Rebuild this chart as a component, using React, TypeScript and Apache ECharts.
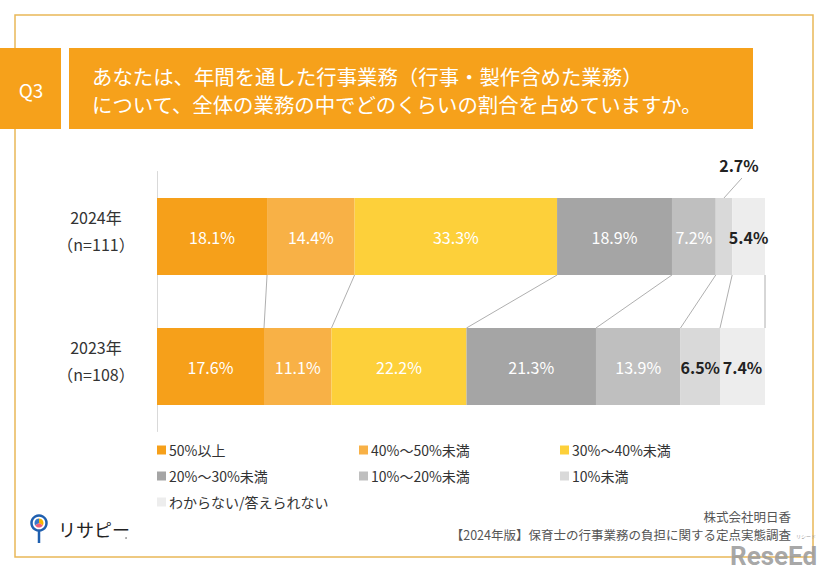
import React, { useEffect, useRef } from 'react';
import * as echarts from 'echarts';

const categories = ['2024年\n（n=111）', '2023年\n（n=108）'];
const seriesNames = ['50%以上', '40%～50%未満', '30%～40%未満', '20%～30%未満', '10%～20%未満', '10%未満', 'わからない/答えられない'];
const values2024 = [18.1, 14.4, 33.3, 18.9, 7.2, 2.7, 5.4];
const values2023 = [17.6, 11.1, 22.2, 21.3, 13.9, 6.5, 7.4];
const colors = ['#F6A01A', '#F8B146', '#FDD03A', '#A5A5A5', '#BFBFBF', '#D9D9D9', '#EDEDED'];
const labelColors = ['#fff', '#fff', '#fff', '#fff', '#fff', '#222', '#222'];
const titleLines = ['あなたは、年間を通した行事業務（行事・製作含めた業務）', 'について、全体の業務の中でどのくらいの割合を占めていますか。'];
const footerLines = ['株式会社明日香', '【2024年版】保育士の行事業務の負担に関する定点実態調査'];

const FONT = "'Noto Sans CJK JP', 'Noto Sans', sans-serif";
const BAR = 77;

function cumulative(arr: number[]) {
  const out: number[] = [];
  let s = 0;
  for (const v of arr) { s += v; out.push(Math.round(s * 10) / 10); }
  return out;
}

export default function App() {
  const ref = useRef<HTMLDivElement>(null);
  useEffect(() => {
    document.body.style.margin = '0';
    const chart = echarts.init(ref.current!, null, { renderer: 'svg' });
    const c24 = cumulative(values2024);
    const c23 = cumulative(values2023);
    const connectors = c24.map((v, i) => [v, c23[i], 0]);
    const leaderMid = c24[4] + values2024[5] / 2;

    const barSeries = seriesNames.map((name, i) => ({
      name,
      type: 'bar',
      stack: 'total',
      barWidth: BAR,
      itemStyle: { color: colors[i] },
      label: {
        show: true,
        position: 'inside',
        formatter: '{c}%',
        color: labelColors[i],
        fontSize: 16,
        fontFamily: FONT,
        fontWeight: labelColors[i] === '#222' ? 'bold' : 'normal',
      },
      data: [values2024[i], values2023[i]].map((v, j) =>
        i === 5 && j === 0
          ? { value: v, label: { position: 'top', offset: [15, -20], color: '#222', fontWeight: 'bold' } }
          : v
      ),
    }));

    const legendCommon = {
      orient: 'vertical',
      icon: 'rect',
      itemWidth: 9,
      itemHeight: 9,
      itemGap: 12,
      padding: 0,
      selectedMode: false,
      textStyle: { fontSize: 14, color: '#333', fontFamily: FONT, padding: [0, 0, 0, -2] },
    };

    chart.setOption({
      animation: false,
      textStyle: { fontFamily: FONT },
      grid: { left: 157, right: 61, top: 171.5, height: 260 },
      xAxis: { type: 'value', min: 0, max: 100, show: false },
      yAxis: {
        type: 'category',
        data: categories,
        inverse: true,
        axisLine: { show: true, lineStyle: { color: '#D9D9D9', width: 1 } },
        axisTick: { show: false },
        axisLabel: {
          margin: 61,
          align: 'center',
          formatter: (v: string) => v.split('\n').map((s) => `{a|${s}}`).join('\n') + '\n{s| }',
          rich: {
            a: { fontSize: 16, lineHeight: 27, color: '#333', fontFamily: FONT, align: 'center' },
            s: { fontSize: 6, lineHeight: 12 },
          },
        },
      },
      legend: [
        { ...legendCommon, left: 157, top: 443, data: [seriesNames[0], seriesNames[3], seriesNames[6]] },
        { ...legendCommon, left: 359, top: 443, data: [seriesNames[1], seriesNames[4]] },
        { ...legendCommon, left: 560, top: 443, data: [seriesNames[2], seriesNames[5]] },
      ],
      series: [
        ...barSeries,
        {
          type: 'custom',
          name: 'connectors',
          silent: true,
          clip: false,
          encode: { x: 0, y: 2 },
          data: connectors,
          renderItem: (params: any, api: any) => {
            const a = api.coord([api.value(0), 0]);
            const b = api.coord([api.value(1), 1]);
            return {
              type: 'line',
              shape: { x1: a[0], y1: a[1] + BAR / 2, x2: b[0], y2: b[1] - BAR / 2 },
              style: { stroke: '#9A9A9A', lineWidth: 0.8 },
            };
          },
        },
        {
          type: 'custom',
          name: 'leader',
          silent: true,
          clip: false,
          encode: { x: 0, y: 1 },
          data: [[leaderMid, 0]],
          renderItem: (params: any, api: any) => {
            const a = api.coord([api.value(0), 0]);
            return {
              type: 'line',
              shape: { x1: a[0], y1: a[1] - BAR / 2, x2: a[0] + 18, y2: a[1] - BAR / 2 - 20 },
              style: { stroke: '#9A9A9A', lineWidth: 0.8 },
            };
          },
        },
      ],
      graphic: [
        { type: 'rect', shape: { x: 15, y: 15, width: 798, height: 542 }, style: { fill: 'none', stroke: '#E9B858', lineWidth: 1.5 }, z: 0 },
        { type: 'rect', shape: { x: 0, y: 48, width: 61, height: 81 }, style: { fill: '#F6A11B' }, z: 1 },
        { type: 'text', x: 31, y: 89, style: { text: 'Q3', fill: '#fff', font: `19px ${FONT}`, align: 'center', verticalAlign: 'middle' }, z: 2 },
        { type: 'rect', shape: { x: 69, y: 48, width: 684, height: 81 }, style: { fill: '#F6A11B' }, z: 1 },
        { type: 'text', x: 92, y: 75.5, style: { text: titleLines[0], fill: '#fff', font: `20.4px ${FONT}`, verticalAlign: 'middle' }, z: 2 },
        { type: 'text', x: 92, y: 104, style: { text: titleLines[1], fill: '#fff', font: `20.4px ${FONT}`, verticalAlign: 'middle' }, z: 2 },
        { type: 'text', x: 791, y: 516, style: { text: footerLines[0], fill: '#555', font: `12.5px ${FONT}`, align: 'right', verticalAlign: 'middle' }, z: 2 },
        { type: 'text', x: 791, y: 534, style: { text: footerLines[1], fill: '#555', font: `12.5px ${FONT}`, align: 'right', verticalAlign: 'middle' }, z: 2 },
        // logo
        { type: 'line', shape: { x1: 39, y1: 530, x2: 39, y2: 543 }, style: { stroke: '#1F5FAF', lineWidth: 2.5 }, z: 2 },
        { type: 'circle', shape: { cx: 39, cy: 523, r: 7.5 }, style: { fill: '#fff', stroke: '#1F5FAF', lineWidth: 2.5 }, z: 3 },
        { type: 'sector', shape: { cx: 39, cy: 523, r: 4.5, startAngle: -Math.PI / 2, endAngle: Math.PI / 6 }, style: { fill: '#F7B500' }, z: 4 },
        { type: 'sector', shape: { cx: 39, cy: 523, r: 4.5, startAngle: Math.PI / 6, endAngle: (5 * Math.PI) / 6 }, style: { fill: '#F0607A' }, z: 4 },
        { type: 'sector', shape: { cx: 39, cy: 523, r: 4.5, startAngle: (5 * Math.PI) / 6, endAngle: (3 * Math.PI) / 2 }, style: { fill: '#3A78C8' }, z: 4 },
        { type: 'text', x: 58, y: 529, style: { text: 'リサピー', fill: '#222', font: `18px ${FONT}`, verticalAlign: 'middle' }, z: 2 },
        { type: 'circle', shape: { cx: 126, cy: 538, r: 0.8 }, style: { fill: '#888' }, z: 2 },
        // watermark
        { type: 'text', x: 796, y: 535.5, style: { text: 'リシード', fill: '#999', font: `5px ${FONT}`, verticalAlign: 'middle' }, z: 5 },
        { type: 'text', x: 730, y: 556, style: { text: 'ReseEd', fill: '#9C9C9C', opacity: 0.9, font: `bold 26px Roboto, sans-serif`, verticalAlign: 'middle' }, z: 5 },
      ],
    });
    return () => chart.dispose();
  }, []);
  return <div ref={ref} style={{ width: 826, height: 571 }} />;
}
